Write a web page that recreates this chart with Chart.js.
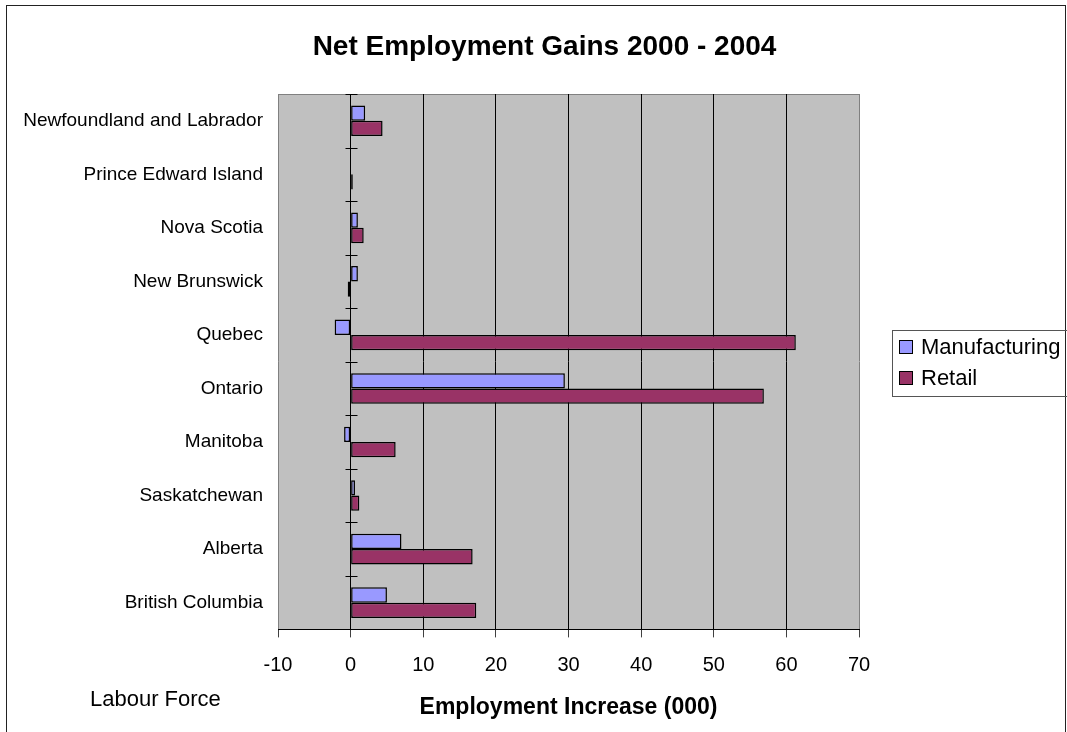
<!DOCTYPE html>
<html>
<head>
<meta charset="utf-8">
<script src="https://cdn.jsdelivr.net/npm/chart.js@4.4.1/dist/chart.umd.min.js"></script>
<style>
  html, body { margin: 0; padding: 0; background: #fff; }
  #wrap { position: relative; width: 1067px; height: 732px; }
</style>
</head>
<body>
<div id="wrap"><canvas id="chart"></canvas></div>
<script>
const provinces = ['Newfoundland and Labrador', 'Prince Edward Island', 'Nova Scotia', 'New Brunswick',
  'Quebec', 'Ontario', 'Manitoba', 'Saskatchewan', 'Alberta', 'British Columbia'];
const manufacturing = [2.0, 0.0, 1.0, 1.0, -2.2, 29.5, -0.9, 0.6, 7.0, 5.0];
const retail = [4.4, 0.3, 1.8, -0.4, 61.3, 56.9, 6.2, 1.2, 16.8, 17.3];
const xMin = -10, xMax = 70, xStep = 10;

const FONT = "'Liberation Sans', Arial, sans-serif";

// plot background, borders, outer frame, title, footer text, legend
const decor = {
  id: 'decor',
  beforeDraw(chart) {
    const ctx = chart.ctx, a = chart.chartArea;
    ctx.save();
    ctx.fillStyle = '#c0c0c0';
    ctx.fillRect(a.left, a.top, a.right - a.left, a.bottom - a.top);
    ctx.strokeStyle = '#808080';
    ctx.lineWidth = 1;
    ctx.beginPath();
    ctx.moveTo(a.left, a.top + 0.5);
    ctx.lineTo(a.right, a.top + 0.5);
    ctx.stroke();
    ctx.restore();
  },
  afterDatasetsDraw(chart) {
    // category tick marks crossing the value axis at zero
    const ctx = chart.ctx, y = chart.scales.y, x = chart.scales.x;
    const x0 = Math.round(x.getPixelForValue(0)) + 0.5;
    ctx.save();
    ctx.strokeStyle = '#000';
    ctx.lineWidth = 1;
    ctx.beginPath();
    const n = provinces.length;
    for (let i = 0; i <= n; i++) {
      const py = Math.round(y.top + (y.bottom - y.top) * i / n) + 0.5;
      ctx.moveTo(x0 - 6, py);
      ctx.lineTo(x0 + 6, py);
    }
    ctx.stroke();
    ctx.restore();
  },
  afterDraw(chart) {
    const ctx = chart.ctx, a = chart.chartArea;
    ctx.save();
    ctx.strokeStyle = '#222';
    ctx.lineWidth = 1;
    ctx.strokeRect(6.5, 5.5, 1059, 800);
    ctx.fillStyle = '#000';
    ctx.textBaseline = 'middle';
    ctx.textAlign = 'center';
    ctx.font = 'bold 28px ' + FONT;
    ctx.fillText('Net Employment Gains 2000 - 2004', 544.5, 47);
    ctx.textAlign = 'left';
    ctx.font = '22px ' + FONT;
    ctx.fillText('Labour Force', 90, 700);
    // legend
    const lx = a.right + 33, ly = 330;
    ctx.strokeStyle = '#555';
    ctx.strokeRect(lx + 0.5, ly + 0.5, 220, 66);
    ctx.font = '22px ' + FONT;
    chart.data.datasets.forEach((ds, i) => {
      const cy = ly + 17 + i * 31;
      ctx.fillStyle = ds.backgroundColor;
      ctx.fillRect(lx + 7.5, cy - 6.5, 13, 13);
      ctx.strokeStyle = '#000';
      ctx.strokeRect(lx + 7.5, cy - 6.5, 13, 13);
      ctx.fillStyle = '#000';
      ctx.fillText(ds.label, lx + 29, cy + 1);
    });
    ctx.restore();
  }
};

new Chart(document.getElementById('chart'), {
  type: 'bar',
  data: {
    labels: provinces,
    datasets: [{
      label: 'Manufacturing',
      data: manufacturing,
      backgroundColor: '#9999ff',
      borderColor: '#000',
      borderWidth: 1.5,
      borderSkipped: false
    }, {
      label: 'Retail',
      data: retail,
      backgroundColor: '#993366',
      borderColor: '#000',
      borderWidth: 1.5,
      borderSkipped: false
    }]
  },
  options: {
    indexAxis: 'y',
    responsive: true,
    maintainAspectRatio: false,
    animation: false,
    categoryPercentage: 0.572,
    barPercentage: 1,
    layout: { padding: { left: 6, right: 208, top: 94, bottom: 8 } },
    plugins: {
      legend: { display: false },
      tooltip: { enabled: false },
      title: { display: false }
    },
    scales: {
      x: {
        min: xMin,
        max: xMax,
        ticks: {
          stepSize: xStep,
          color: '#000',
          padding: 16,
          font: { family: FONT, size: 20 }
        },
        grid: {
          color: c => (c.tick && (c.tick.value === xMin || c.tick.value === xMax)) ? '#808080' : '#000',
          tickColor: '#404040',
          tickLength: 8,
          lineWidth: 1
        },
        border: { display: true, color: '#000' },
        title: {
          display: true,
          text: 'Employment Increase (000)',
          color: '#000',
          font: { family: FONT, size: 23, weight: 'bold' },
          padding: { top: 0, bottom: 3 }
        }
      },
      y: {
        afterFit: s => { s.width = 272; },
        grid: { display: false },
        border: { display: false },
        ticks: {
          color: '#000',
          padding: 7,
          font: { family: FONT, size: 19 }
        }
      }
    }
  },
  plugins: [decor]
});
</script>
</body>
</html>
